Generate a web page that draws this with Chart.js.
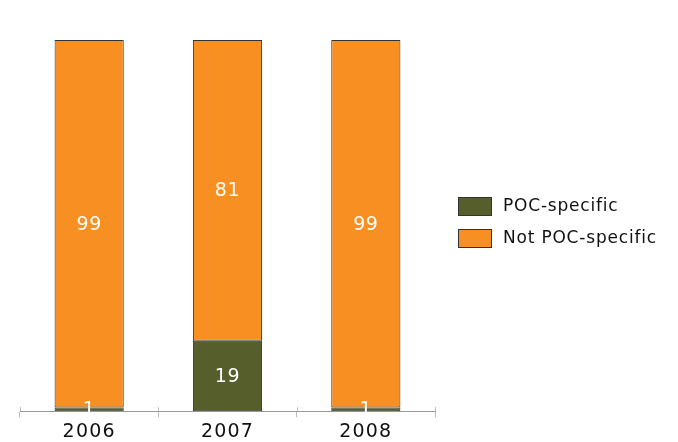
<!DOCTYPE html>
<html>
<head>
<meta charset="utf-8">
<script src="https://cdn.jsdelivr.net/npm/chart.js@4"></script>
<style>
  html, body { margin: 0; padding: 0; background: #fff; }
  #wrap { width: 678px; height: 442px; }
</style>
</head>
<body>
<div id="wrap"><canvas id="chart" width="678" height="442"></canvas></div>
<script>
const years = ['2006', '2007', '2008'];
const pocSpecific = [1, 19, 1];
const notPocSpecific = [99, 81, 99];
const seriesNames = ['POC-specific', 'Not POC-specific'];
const seriesColors = ['#565e2b', '#f78f22'];

const FONT = "'DejaVu Sans', Verdana, sans-serif";

// a bit of letter spacing, the original text is looser than DejaVu
const spacing = {
  id: 'spacing',
  beforeDraw(chart) {
    chart.ctx.letterSpacing = '1.2px';
  }
};

// value labels in the middle of each segment
const valueLabels = {
  id: 'valueLabels',
  afterDatasetsDraw(chart) {
    const ctx = chart.ctx;
    ctx.save();
    ctx.letterSpacing = '0.6px';
    ctx.fillStyle = '#fff';
    ctx.font = '19px ' + FONT;
    ctx.textAlign = 'center';
    ctx.textBaseline = 'middle';
    chart.data.datasets.forEach((ds, i) => {
      chart.getDatasetMeta(i).data.forEach((bar, j) => {
        const y = (bar.y + bar.base) / 2;
        ctx.fillText(String(ds.data[j]), bar.x, y + 1);
      });
    });
    ctx.restore();
  }
};

// small tick marks crossing the axis line, and the legend at right
const extras = {
  id: 'extras',
  afterDraw(chart) {
    const ctx = chart.ctx;
    const xs = chart.scales.x;
    const half = (xs.getPixelForValue(1) - xs.getPixelForValue(0)) / 2;
    ctx.save();
    ctx.strokeStyle = '#bbb';
    ctx.lineWidth = 1;
    for (let i = 0; i <= years.length; i++) {
      const x = Math.round(xs.getPixelForValue(i) - half) + 0.5;
      ctx.beginPath();
      ctx.moveTo(x, xs.top - 4);
      ctx.lineTo(x, xs.top);
      ctx.stroke();
    }

    ctx.letterSpacing = '0.8px';
    ctx.font = '17px ' + FONT;
    ctx.textBaseline = 'middle';
    chart.data.datasets.forEach((ds, i) => {
      const y = 197 + i * 32;
      ctx.fillStyle = ds.backgroundColor;
      ctx.fillRect(458, y, 34, 19);
      ctx.strokeStyle = '#333';
      ctx.strokeRect(458.5, y + 0.5, 33, 18);
      ctx.fillStyle = '#111';
      ctx.fillText(ds.label, 503, y + 10);
    });
    ctx.restore();
  }
};

new Chart(document.getElementById('chart'), {
  type: 'bar',
  data: {
    labels: years,
    datasets: [
      {
        label: seriesNames[0],
        data: pocSpecific,
        backgroundColor: seriesColors[0],
        borderColor: '#333',
        borderWidth: 1,
        borderSkipped: false,
      },
      {
        label: seriesNames[1],
        data: notPocSpecific,
        backgroundColor: seriesColors[1],
        borderColor: '#333',
        borderWidth: 1,
        borderSkipped: false,
      },
    ],
  },
  options: {
    responsive: false,
    animation: false,
    layout: { padding: { left: 20, right: 243, top: 40, bottom: -4 } },
    datasets: { bar: { barPercentage: 0.5, categoryPercentage: 1 } },
    plugins: { legend: { display: false }, tooltip: { enabled: false } },
    scales: {
      x: {
        stacked: true,
        offset: true,
        border: { display: true, color: '#999', width: 1 },
        grid: {
          offset: true,
          drawOnChartArea: false,
          drawTicks: true,
          tickLength: 6,
          color: '#bbb',
        },
        ticks: { color: '#111', font: { family: FONT, size: 19 }, padding: 3 },
      },
      y: {
        stacked: true,
        display: false,
        min: 0,
        max: 100,
      },
    },
  },
  plugins: [spacing, valueLabels, extras],
});
</script>
</body>
</html>
